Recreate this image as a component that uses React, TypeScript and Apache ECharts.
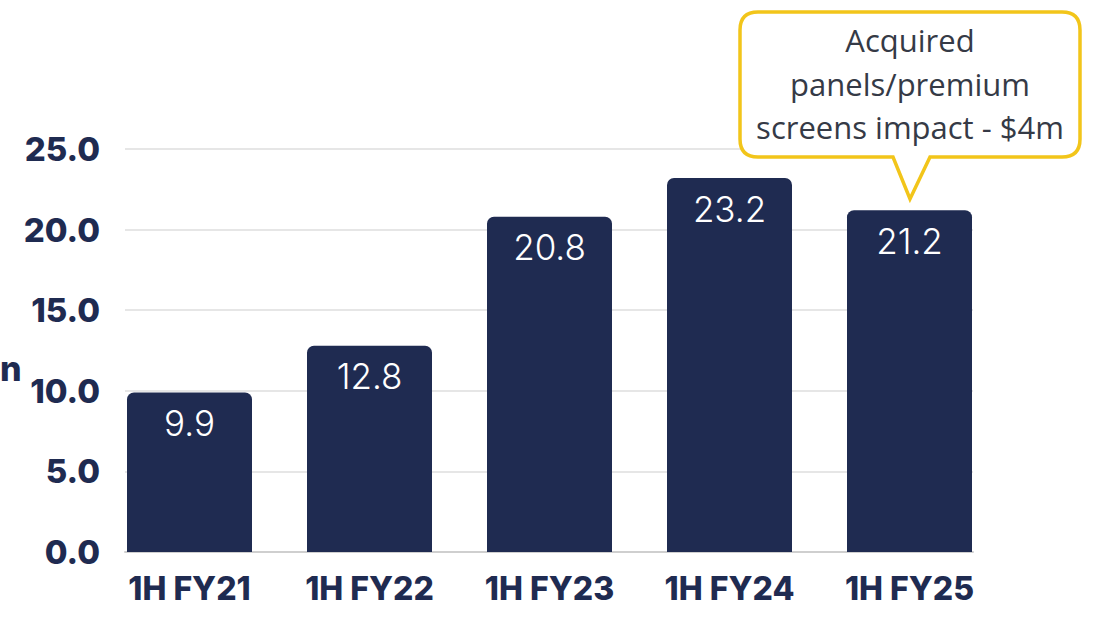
import React, { useEffect, useRef } from "react";
import * as echarts from "echarts";

const categories = ["1H FY21", "1H FY22", "1H FY23", "1H FY24", "1H FY25"];
const values = [9.9, 12.8, 20.8, 23.2, 21.2];
const yTicks = [0, 5, 10, 15, 20, 25];
const calloutLines = ["Acquired", "panels/premium", "screens impact - $4m"];
const axisTitle = "n";

const NAVY = "#1f2b51";
const GOLD = "#f2c51a";

const calloutPath =
  "M758 12 L1062 12 Q1080 12 1080 30 L1080 139 Q1080 157 1062 157 L930 157 L910 199 L893 157 L758 157 Q740 157 740 139 L740 30 Q740 12 758 12 Z";

let registered = false;

export default function App() {
  const ref = useRef<HTMLDivElement>(null);
  useEffect(() => {
    document.body.style.margin = "0";
    if (!registered) {
      echarts.graphic.registerShape("callout", echarts.graphic.extendPath(calloutPath, {}));
      registered = true;
    }
    const chart = echarts.init(ref.current!, null, { renderer: "svg" });
    const yMin = yTicks[0];
    const yMax = yTicks[yTicks.length - 1];
    const yInt = yTicks[1] - yTicks[0];
    chart.setOption({
      animation: false,
      backgroundColor: "#ffffff",
      grid: [
        { left: 125, right: 121, top: 149, bottom: 65 },
        { left: 99.5, right: 94.5, top: 149, bottom: 65 },
      ],
      xAxis: [
        {
          type: "category",
          gridIndex: 0,
          data: categories,
          axisLine: { show: true, lineStyle: { color: "#cfcfcf", width: 2 } },
          axisTick: { show: false },
          axisLabel: { show: false },
          splitLine: { show: false },
        },
        {
          type: "category",
          gridIndex: 1,
          data: categories,
          axisLine: { show: false },
          axisTick: { show: false },
          axisLabel: {
            color: NAVY,
            fontFamily: "Inter",
            fontWeight: 800,
            fontSize: 32,
            margin: 20,
          },
        },
      ],
      yAxis: [
        {
          type: "value",
          gridIndex: 0,
          min: yMin,
          max: yMax,
          interval: yInt,
          axisLine: { show: false },
          axisTick: { show: false },
          splitLine: { lineStyle: { color: "#dedede", width: 1.5 } },
          axisLabel: {
            color: NAVY,
            fontFamily: "Inter",
            fontWeight: 800,
            fontSize: 33,
            margin: 25,
            formatter: (v: number) => v.toFixed(1),
          },
        },
        {
          type: "value",
          gridIndex: 1,
          min: yMin,
          max: yMax,
          interval: yInt,
          show: false,
          splitLine: { show: false },
        },
      ],
      series: [
        {
          type: "bar",
          xAxisIndex: 1,
          yAxisIndex: 1,
          data: values,
          barWidth: 125,
          itemStyle: { color: NAVY, borderRadius: [7, 7, 0, 0] },
          label: {
            show: true,
            position: "insideTop",
            distance: 13,
            color: "#ffffff",
            fontFamily: "Inter",
            fontWeight: 300,
            fontSize: 35,
            formatter: (p: any) => p.value.toFixed(1),
          },
        },
      ],
      graphic: [
        {
          type: "callout",
          x: 0,
          y: 0,
          z: 10,
          style: { fill: "#ffffff", stroke: GOLD, lineWidth: 3.5 },
        },
        ...calloutLines.map((t, i) => ({
          type: "text",
          z: 11,
          x: 910,
          y: 40 + i * 43.5,
          style: {
            text: t,
            fill: "#353a46",
            font: "400 31px 'Open Sans'",
            align: "center",
            verticalAlign: "middle",
          },
        })),
        {
          type: "text",
          x: 0,
          y: 368,
          style: {
            text: axisTitle,
            fill: NAVY,
            font: "800 34px Inter",
            align: "left",
            verticalAlign: "middle",
          },
        },
      ],
    });
    return () => chart.dispose();
  }, []);
  return (
    <div
      ref={ref}
      style={{ position: "fixed", left: 0, top: 0, width: 1094, height: 617 }}
    />
  );
}
